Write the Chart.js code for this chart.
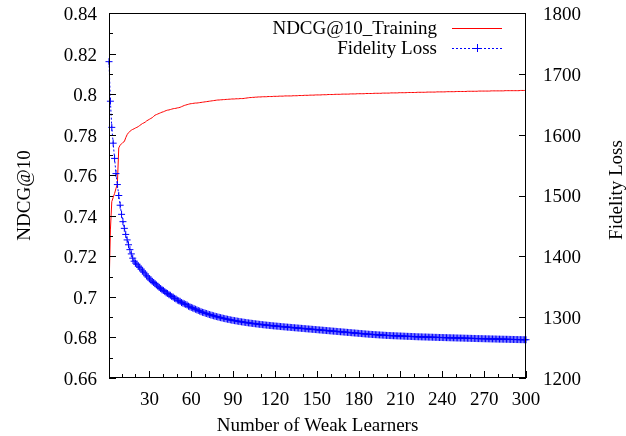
<!DOCTYPE html>
<html>
<head>
<meta charset="utf-8">
<script src="https://cdn.jsdelivr.net/npm/chart.js@4.4.1/dist/chart.umd.min.js"></script>
<style>
html,body{margin:0;padding:0;background:#fff;}
#wrap{width:626px;height:436px;}
</style>
</head>
<body>
<div id="wrap"><canvas id="c" width="626" height="436"></canvas></div>
<script>
// ---------- DATA ----------
const seriesNames = ["NDCG@10_Training", "Fidelity Loss"];
const xTickLabels = [30, 60, 90, 120, 150, 180, 210, 240, 270, 300];
const yLeftTicks = [0.66, 0.68, 0.70, 0.72, 0.74, 0.76, 0.78, 0.80, 0.82, 0.84];
const yRightTicks = [1200, 1300, 1400, 1500, 1600, 1700, 1800];

// NDCG@10 on training set, weak learners 1..300
const ndcg = [
0.703,0.733,0.747,0.749,0.751,0.7535,0.7555,0.7735,0.7748,0.7755,
0.7762,0.7766,0.7785,0.7800,0.7810,0.7816,0.7822,0.7826,0.7829,0.7833,
0.7836,0.7840,0.7845,0.7850,0.7855,0.7858,0.7862,0.7868,0.7872,0.7876,
0.7880,0.7884,0.7890,0.7896,0.7899,0.7902,0.7905,0.7908,0.7911,0.7913,
0.7916,0.7919,0.7921,0.7922,0.7924,0.7926,0.7928,0.7929,0.7930,0.7932,
0.7933,0.7935,0.7938,0.7941,0.7944,0.7946,0.7948,0.7950,0.7952,0.7953,
0.7954,0.7955,0.7956,0.7956,0.7957,0.7958,0.7959,0.7960,0.7961,0.7962,
0.7963,0.7964,0.7965,0.7966,0.7967,0.7968,0.7969,0.7970,0.7971,0.7971,
0.7972,0.7972,0.7973,0.7973,0.7974,0.7974,0.7975,0.7975,0.7976,0.7976,
0.7976,0.7977,0.7977,0.7977,0.7978,0.7978,0.7978,0.7979,0.7980,0.7981,
0.7982,0.7983,0.7983,0.7984,0.7984,0.7985,0.7985,0.7986,0.7986,0.7986,
0.7987,0.7987,0.7987,0.7987,0.7988,0.7988,0.7988,0.7988,0.7989,0.7989,
0.7989,0.7989,0.7990,0.7990,0.7990,0.7990,0.7991,0.7991,0.7991,0.7991,
0.7991,0.7991,0.7992,0.7992,0.7992,0.7992,0.7993,0.7993,0.7993,0.7993,
0.7994,0.7994,0.7994,0.7994,0.7995,0.7995,0.7995,0.7995,0.7996,0.7996,
0.7996,0.7996,0.7996,0.7997,0.7997,0.7997,0.7997,0.7998,0.7998,0.7998,
0.7998,0.7998,0.7999,0.7999,0.7999,0.7999,0.7999,0.8000,0.8000,0.8000,
0.8000,0.8000,0.8000,0.8001,0.8001,0.8001,0.8001,0.8001,0.8002,0.8002,
0.8002,0.8002,0.8002,0.8002,0.8003,0.8003,0.8003,0.8003,0.8003,0.8003,
0.8004,0.8004,0.8004,0.8004,0.8004,0.8004,0.8005,0.8005,0.8005,0.8005,
0.8005,0.8005,0.8006,0.8006,0.8006,0.8006,0.8006,0.8006,0.8007,0.8007,
0.8007,0.8007,0.8007,0.8007,0.8008,0.8008,0.8008,0.8008,0.8008,0.8008,
0.8008,0.8009,0.8009,0.8009,0.8009,0.8009,0.8009,0.8009,0.8010,0.8010,
0.8010,0.8010,0.8010,0.8010,0.8010,0.8011,0.8011,0.8011,0.8011,0.8011,
0.8011,0.8011,0.8012,0.8012,0.8012,0.8012,0.8012,0.8012,0.8012,0.8013,
0.8013,0.8013,0.8013,0.8013,0.8013,0.8013,0.8013,0.8014,0.8014,0.8014,
0.8014,0.8014,0.8014,0.8014,0.8014,0.8015,0.8015,0.8015,0.8015,0.8015,
0.8015,0.8015,0.8015,0.8015,0.8016,0.8016,0.8016,0.8016,0.8016,0.8016,
0.8016,0.8016,0.8016,0.8016,0.8017,0.8017,0.8017,0.8017,0.8017,0.8017,
0.8017,0.8017,0.8017,0.8017,0.8017,0.8018,0.8018,0.8018,0.8018,0.8018
];

// Fidelity loss, weak learners 1..300
const fidelity = [
1720,1655,1612,1586,1561,1536,1518,1500,1484,1469,
1457,1446,1436,1427,1419,1411,1404,1397,1392,1389,
1387,1384,1382,1379,1376,1374,1371,1368,1366,1363,
1361,1359,1357,1355,1353,1351,1349,1347,1345,1344,
1342,1340,1339,1337,1336,1334,1333,1331,1330,1328,
1327,1326,1324,1323,1322,1321,1320,1318,1317,1316,
1315,1314,1313,1312,1311,1310,1309,1308,1307.5,1306.5,
1306,1305,1304.3,1303.6,1303,1302.3,1301.6,1301,1300.4,1299.8,
1299.2,1298.7,1298.1,1297.6,1297.1,1296.6,1296.1,1295.6,1295.1,1294.7,
1294.3,1293.9,1293.5,1293.1,1292.7,1292.3,1292,1291.6,1291.3,1290.9,
1290.6,1290.3,1290.0,1289.7,1289.4,1289.1,1288.8,1288.5,1288.2,1288.0,
1287.7,1287.4,1287.2,1286.9,1286.7,1286.4,1286.2,1286.0,1285.7,1285.5,
1285.3,1285.1,1284.9,1284.6,1284.4,1284.2,1284.0,1283.8,1283.6,1283.4,
1283.2,1283.0,1282.8,1282.6,1282.4,1282.2,1282.0,1281.8,1281.6,1281.4,
1281.2,1281.0,1280.8,1280.6,1280.4,1280.2,1280.0,1279.8,1279.6,1279.4,
1279.2,1279.0,1278.8,1278.6,1278.4,1278.2,1278.0,1277.8,1277.6,1277.4,
1277.2,1277.0,1276.8,1276.6,1276.4,1276.2,1276.0,1275.8,1275.6,1275.4,
1275.2,1275.0,1274.8,1274.6,1274.4,1274.2,1274.0,1273.8,1273.6,1273.4,
1273.2,1273.0,1272.8,1272.6,1272.4,1272.2,1272.0,1271.8,1271.7,1271.5,
1271.4,1271.2,1271.1,1270.9,1270.8,1270.6,1270.5,1270.3,1270.2,1270.0,
1269.9,1269.8,1269.7,1269.6,1269.5,1269.4,1269.3,1269.2,1269.1,1269.0,
1268.9,1268.8,1268.7,1268.6,1268.5,1268.4,1268.3,1268.2,1268.1,1268.0,
1267.9,1267.8,1267.7,1267.7,1267.6,1267.5,1267.4,1267.4,1267.3,1267.2,
1267.1,1267.1,1267.0,1266.9,1266.8,1266.8,1266.7,1266.6,1266.6,1266.5,
1266.4,1266.4,1266.3,1266.2,1266.2,1266.1,1266.0,1266.0,1265.9,1265.8,
1265.8,1265.7,1265.6,1265.6,1265.5,1265.4,1265.4,1265.3,1265.2,1265.2,
1265.1,1265.0,1265.0,1264.9,1264.8,1264.8,1264.7,1264.7,1264.6,1264.5,
1264.5,1264.4,1264.4,1264.3,1264.2,1264.2,1264.1,1264.1,1264.0,1263.9,
1263.9,1263.8,1263.8,1263.7,1263.7,1263.6,1263.6,1263.5,1263.4,1263.4,
1263.3,1263.3,1263.2,1263.2,1263.1,1263.1,1263.0,1263.0,1262.9,1262.9
];

// x categories: number of weak learners
const learners = ndcg.map((_, i) => i + 1);

// ---------- CHART ----------
const FONT = "'Liberation Serif', 'DejaVu Serif', serif";
const FS = 19;
const RED = '#ff0000';
const BLUE = '#0000ff';

const frame = {
  id: 'frame',
  afterDraw(chart) {
    const {ctx, chartArea: a, scales} = chart;
    const xs = scales.x, yl = scales.y, yr = scales.y2;
    ctx.save();
    ctx.strokeStyle = '#000';
    ctx.lineWidth = 1;
    // border
    ctx.strokeRect(Math.round(a.left) + 0.5, Math.round(a.top) + 0.5,
                   Math.round(a.right - a.left) - 1, Math.round(a.bottom - a.top) - 1);
    ctx.beginPath();
    // x ticks (inward), minor every 10, major every 30
    for (let v = 10; v <= xs.max; v += 10) {
      const px = Math.round(xs.getPixelForValue(v)) + 0.5;
      const len = (v % 30 === 0) ? 7 : 4;
      ctx.moveTo(px, a.bottom);
      ctx.lineTo(px, a.bottom - len);
    }
    // left ticks, every 0.01 (major every 0.02)
    for (let k = 0; k <= 18; k++) {
      const v = yl.min + k * 0.01;
      const py = Math.round(yl.getPixelForValue(v)) + 0.5;
      const len = (k % 2 === 0) ? 7 : 4;
      ctx.moveTo(a.left, py);
      ctx.lineTo(a.left + len, py);
    }
    // right ticks
    yRightTicks.forEach(v => {
      const py = Math.round(yr.getPixelForValue(v)) + 0.5;
      ctx.moveTo(a.right, py);
      ctx.lineTo(a.right - 7, py);
    });
    ctx.stroke();

    // tick labels
    ctx.fillStyle = '#000';
    ctx.font = FS + 'px ' + FONT;
    ctx.textBaseline = 'middle';
    ctx.textAlign = 'right';
    yLeftTicks.forEach(v => {
      ctx.fillText(String(Number(v.toFixed(2))), a.left - 12, yl.getPixelForValue(v) + 2);
    });
    ctx.textAlign = 'left';
    yRightTicks.forEach(v => {
      ctx.fillText(String(v), a.right + 17, yr.getPixelForValue(v) + 2);
    });
    ctx.textAlign = 'center';
    ctx.textBaseline = 'top';
    xTickLabels.forEach(v => {
      ctx.fillText(String(v), xs.getPixelForValue(v), a.bottom + 13);
    });

    // right axis title (reads bottom to top)
    ctx.textBaseline = 'middle';
    ctx.save();
    ctx.translate(617, 190);
    ctx.rotate(-Math.PI / 2);
    ctx.fillText('Fidelity Loss', 0, 0);
    ctx.restore();

    // legend
    const ds = chart.data.datasets;
    const rows = [28, 48];
    const textRight = 437, x0 = 452, x1 = 502;
    ctx.textAlign = 'right';
    ds.forEach((d, i) => {
      const y = rows[i];
      ctx.fillStyle = '#000';
      ctx.fillText(d.label, textRight, y + 1);
      ctx.strokeStyle = d.borderColor;
      ctx.lineWidth = 1;
      ctx.setLineDash(d.borderDash || []);
      ctx.beginPath();
      ctx.moveTo(x0, y + 0.5);
      ctx.lineTo(x1, y + 0.5);
      ctx.stroke();
      ctx.setLineDash([]);
      if (d.pointRadius) {
        const cx = (x0 + x1) / 2, r = 4;
        ctx.beginPath();
        ctx.moveTo(cx - r, y + 0.5); ctx.lineTo(cx + r, y + 0.5);
        ctx.moveTo(cx + 0.5, y - r); ctx.lineTo(cx + 0.5, y + r);
        ctx.stroke();
      }
    });
    ctx.restore();
  }
};

function zeroPad(s) { s.paddingTop = 0; s.paddingBottom = 0; s.paddingLeft = 0; s.paddingRight = 0; }

new Chart(document.getElementById('c'), {
  type: 'line',
  data: {
    datasets: [
      {
        label: seriesNames[0],
        data: learners.map((x, i) => ({x, y: ndcg[i]})),
        yAxisID: 'y',
        borderColor: RED,
        backgroundColor: RED,
        borderWidth: 1,
        pointRadius: 0,
        tension: 0,
        order: 2
      },
      {
        label: seriesNames[1],
        data: learners.map((x, i) => ({x, y: fidelity[i]})),
        yAxisID: 'y2',
        borderColor: BLUE,
        backgroundColor: BLUE,
        borderWidth: 1,
        borderDash: [2, 2],
        pointStyle: 'cross',
        pointRadius: 3.5,
        pointBorderWidth: 1,
        pointBorderColor: BLUE,
        tension: 0,
        clip: false,
        order: 1
      }
    ]
  },
  options: {
    responsive: false,
    animation: false,
    events: [],
    layout: {autoPadding: false, padding: {top: 13, left: 0, right: 0, bottom: 0}},
    plugins: {legend: {display: false}, tooltip: {enabled: false}},
    scales: {
      x: {
        type: 'linear',
        position: 'bottom',
        min: 1,
        max: 300,
        grid: {display: false, drawTicks: false},
        border: {display: false},
        afterFit(s) { s.height = 58; zeroPad(s); },
        afterBuildTicks(s) { s.ticks = xTickLabels.map(v => ({value: v})); },
        ticks: {display: false},
        title: {
          display: true,
          text: 'Number of Weak Learners',
          color: '#000',
          font: {family: FONT, size: FS, lineHeight: 1},
          padding: {top: 0, bottom: 0}
        }
      },
      y: {
        type: 'linear',
        position: 'left',
        min: 0.66,
        max: 0.84,
        grid: {display: false, drawTicks: false},
        border: {display: false},
        afterFit(s) { s.width = 109; zeroPad(s); },
        afterBuildTicks(s) { s.ticks = yLeftTicks.map(v => ({value: v})); },
        ticks: {display: false},
        title: {
          display: true,
          text: 'NDCG@10',
          color: '#000',
          font: {family: FONT, size: FS, lineHeight: 1},
          padding: {top: 16, bottom: 0}
        }
      },
      y2: {
        type: 'linear',
        position: 'right',
        min: 1200,
        max: 1800,
        grid: {display: false, drawTicks: false},
        border: {display: false},
        afterFit(s) { s.width = 100; zeroPad(s); },
        afterBuildTicks(s) { s.ticks = yRightTicks.map(v => ({value: v})); },
        ticks: {display: false}
      }
    }
  },
  plugins: [frame]
});
</script>
</body>
</html>
